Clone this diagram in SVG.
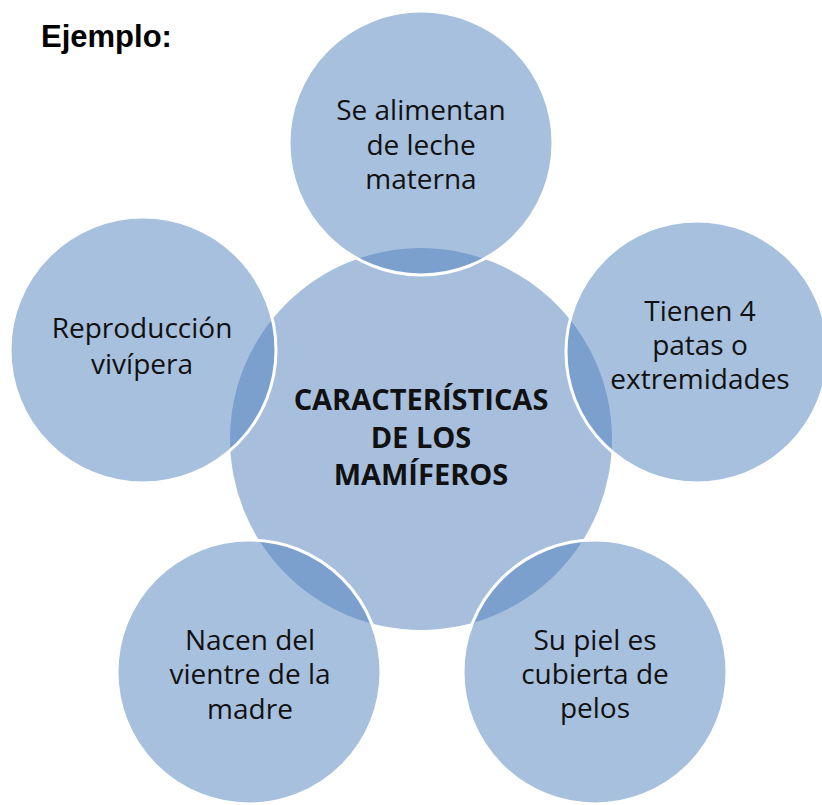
<svg xmlns="http://www.w3.org/2000/svg" width="822" height="805" viewBox="0 0 822 805">
<style>
.bg{fill:#ffffff}
.center{fill:#A7BFDD}
.outer{fill:#4F81BD;fill-opacity:0.5;stroke:#ffffff;stroke-width:3}
.lbl{font-family:"Open Sans","Noto Sans",sans-serif;font-size:28px;fill:#111111;text-anchor:middle}
.clbl{font-family:"Open Sans","Noto Sans",sans-serif;font-size:29px;font-weight:bold;fill:#111111;text-anchor:middle}
.title{font-family:"Liberation Sans",Arial,sans-serif;font-size:31px;font-weight:bold;fill:#000000}
</style>
<rect class="bg" x="0" y="0" width="822" height="805"/>
<text class="title" x="41" y="47">Ejemplo:</text>
<g id="center">
<circle class="center" cx="421" cy="439" r="191"/>
</g>
<g id="connectors"></g>
<g id="top">
<circle class="outer" cx="421" cy="143" r="132"/>
<text class="lbl" x="421" y="120">Se alimentan</text>
<text class="lbl" x="421" y="155">de leche</text>
<text class="lbl" x="421" y="189">materna</text>
</g>
<g id="right">
<circle class="outer" cx="697" cy="352" r="131"/>
<text class="lbl" x="700" y="321">Tienen 4</text>
<text class="lbl" x="700" y="355">patas o</text>
<text class="lbl" x="700" y="389">extremidades</text>
</g>
<g id="left">
<circle class="outer" cx="143" cy="350" r="133"/>
<text class="lbl" x="142" y="338">Reproducción</text>
<text class="lbl" x="142" y="374">vivípera</text>
</g>
<g id="bottom-left">
<circle class="outer" cx="249" cy="672" r="132"/>
<text class="lbl" x="250" y="650">Nacen del</text>
<text class="lbl" x="250" y="684">vientre de la</text>
<text class="lbl" x="250" y="719">madre</text>
</g>
<g id="bottom-right">
<circle class="outer" cx="595" cy="672" r="132"/>
<text class="lbl" x="595" y="650">Su piel es</text>
<text class="lbl" x="595" y="684">cubierta de</text>
<text class="lbl" x="595" y="718">pelos</text>
</g>
<g id="center-label">
<text class="clbl" x="421" y="410">CARACTERÍSTICAS</text>
<text class="clbl" x="421" y="448">DE LOS</text>
<text class="clbl" x="421" y="485">MAMÍFEROS</text>
</g>
</svg>
